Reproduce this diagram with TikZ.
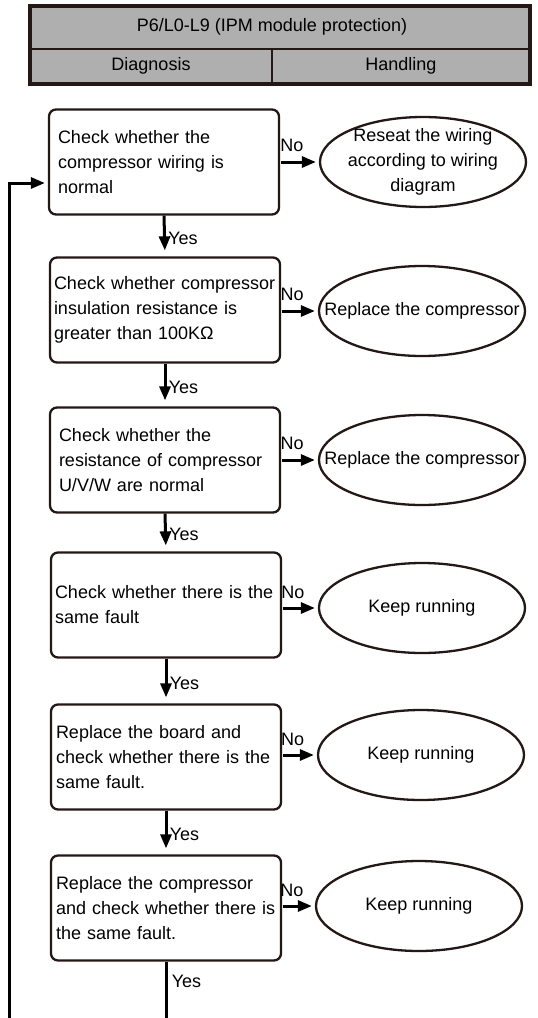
\documentclass[tikz,border=0pt]{standalone}
\usepackage{fontspec}
\setmainfont{Liberation Sans}
\usetikzlibrary{shapes.geometric,arrows.meta}
\definecolor{inkdark}{HTML}{231815}
\definecolor{headgray}{HTML}{AFAFAF}
\tikzset{
  checkbox/.style={draw=inkdark, line width=2.3pt, rounded corners=7pt, minimum width=230pt,
    minimum height=105pt, text width=212pt, align=left, inner sep=0pt},
  endnode/.style={ellipse, draw=inkdark, line width=2.3pt, minimum width=206pt, minimum height=90pt, inner sep=0pt},
  flow/.style={line width=3pt, -{Triangle[length=14pt,width=11pt]}},
}
\begin{document}
\begin{tikzpicture}[x=1pt, y=-1pt, every node/.style={font=\fontsize{18}{25}\selectfont}]
  \useasboundingbox (0,0) rectangle (538,1018);
  % header table
  \fill[headgray] (30,6) rectangle (530,84);
  \draw[inkdark, line width=1.6pt] (30,49) -- (530,49) (272,49) -- (272,84);
  \draw[inkdark, line width=3.2pt] (30,6) rectangle (530,84);
  \node (title) at (272,27) {P6/L0-L9 (IPM module protection)};
  \node (diag) at (151,66) {Diagnosis};
  \node (hand) at (401,66) {Handling};
  % checks
  \node[checkbox] (c1) at (164,162) {Check whether the\\compressor wiring is\\normal};
  \node[checkbox, text width=222pt] (c2) at (165,310) {Check whether compressor\\insulation resistance is\\greater than 100KΩ};
  \node[checkbox] (c3) at (165,460) {Check whether the\\resistance of compressor\\U/V/W are normal};
  \node[checkbox, text width=222pt] (c4) at (166,605) {Check whether there is the\\same fault};
  \node[checkbox, text width=220pt] (c5) at (166,757) {Replace the board and\\check whether there is the\\same fault.};
  \node[checkbox, text width=220pt] (c6) at (166,908) {Replace the compressor\\and check whether there is\\the same fault.};
  % results
  \node[endnode, label={[align=center]center:{Reseat the wiring\\according to wiring\\diagram}}] (r1) at (423,162) {};
  \node[endnode, label={center:Replace the compressor}] (r2) at (422,311) {};
  \node[endnode, label={center:Replace the compressor}] (r3) at (422,460) {};
  \node[endnode, label={center:Keep running}] (r4) at (422,608) {};
  \node[endnode, label={center:Keep running}] (r5) at (421,755) {};
  \node[endnode, label={center:Keep running}] (r6) at (419,906) {};
  % no branches
  \foreach \i in {1,...,6} {
    \draw[flow, shorten <=1pt, shorten >=3pt] (c\i.east |- r\i) -- (r\i.west) node[pos=0.3, above=5pt] {No};
  }
  % yes branches
  \foreach \i/\j in {1/2,2/3,3/4,4/5,5/6} {
    \draw[flow, shorten >=6pt] (c\i.south) -- (c\j.north) node[midway, right=-1pt, yshift=-2pt] {Yes};
  }
  \coordinate (tail) at (c6.south |- 0,1018);
  \draw[line width=3pt] (c6.south) -- (tail) node[pos=0.35, right=1pt] {Yes};
  % return line
  \coordinate (back) at (9,1018);
  \draw[flow, shorten >=3pt] (back) |- (c1.west |- 0,183);
\end{tikzpicture}
\end{document}
